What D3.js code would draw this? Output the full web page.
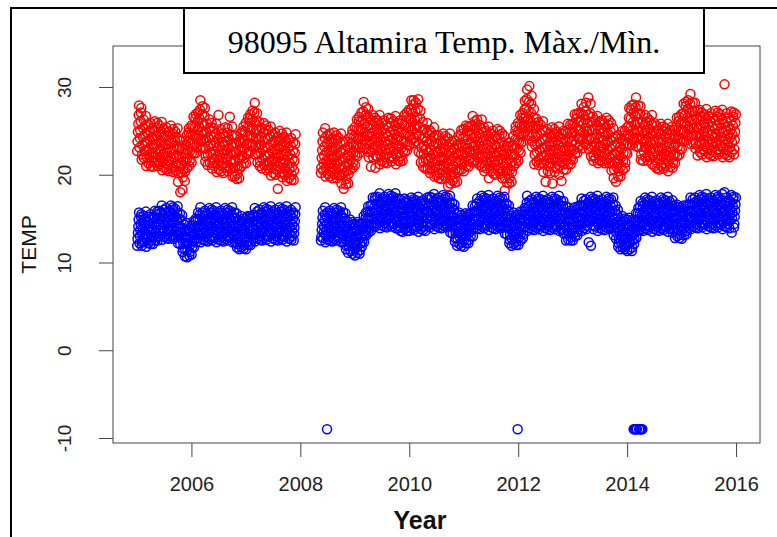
<!DOCTYPE html>
<html>
<head>
<meta charset="utf-8">
<script src="https://cdn.jsdelivr.net/npm/d3@7"></script>
<style>
  body { margin: 0; background: #fff; }
  svg { display: block; }
</style>
</head>
<body>
<div id="chart"></div>
<script>
// Station 98095 Altamira, daily max / min temperature.
// Values: 6 readings per half-month (24 half-months a year).
const years = [2005, 2006, 2007, 2008, 2009, 2010, 2011, 2012, 2013, 2014, 2015];
// half-month where each year's record starts (2008 resumes in May after the gap)
const firstPeriod = [0, 0, 0, 9, 0, 0, 0, 0, 0, 0, 0];
const readingsPerPeriod = 6;

const tmax2005 = [22.7,23.8,24.9,25.8,26.8,27.9, 23.1,24.2,25.1,26.1,27.1,27.6, 21.7,22.3,23.4,24.3,25.3,26.3, 21.9,22.7,23.6,24.6,25.6,26.7,
  21.0,22.0,22.8,23.8,24.8,25.7, 21.3,22.3,23.0,24.0,25.0,25.9, 21.0,21.6,22.5,23.4,24.3,25.3, 20.9,22.0,23.1,24.0,25.0,26.1,
  21.4,22.5,23.4,24.4,25.4,25.9, 21.0,21.6,22.7,23.6,24.6,25.6, 21.2,22.0,22.9,23.9,24.9,26.0, 20.5,21.5,22.3,23.3,24.3,25.2,
  20.8,21.8,22.5,23.5,24.5,25.4, 20.6,21.2,22.1,23.0,23.9,24.9, 20.4,21.5,22.6,23.5,24.5,25.6, 20.7,21.8,22.7,23.7,24.7,25.2,
  20.3,20.9,22.0,22.9,23.9,24.9, 20.5,21.3,22.2,23.2,24.2,25.3, 19.2,20.2,21.0,22.0,23.0,23.9, 18.0,20.3,21.0,22.0,23.0,23.9,
  18.3,19.7,20.6,21.5,22.4,23.4, 19.3,20.4,21.5,22.4,23.4,24.5, 20.8,21.9,22.8,23.8,24.8,25.3, 21.0,21.6,22.7,23.6,24.6,25.6];
const tmax2006 = [21.4,22.5,23.6,24.5,25.5,26.6, 22.4,23.5,24.4,25.4,26.4,26.9, 22.5,23.1,24.2,25.1,26.1,27.1, 23.7,24.5,25.4,26.4,27.4,28.5,
  23.1,24.1,24.9,25.9,26.9,27.8, 23.0,24.0,24.7,25.7,26.7,27.6, 21.5,22.1,23.0,23.9,24.8,25.8, 21.1,22.2,23.3,24.2,25.2,26.3,
  21.4,22.5,23.4,24.4,25.4,25.9, 20.7,21.3,22.4,23.3,24.3,25.3, 21.0,21.8,22.7,23.7,24.7,25.8, 20.3,21.3,22.1,23.1,24.1,26.8,
  20.6,21.6,22.3,23.3,24.3,25.2, 20.4,21.0,21.9,22.8,23.7,24.7, 20.2,21.3,22.4,23.3,24.3,25.4, 20.8,21.9,22.8,23.8,24.8,25.3,
  20.4,21.0,22.1,23.0,24.0,26.6, 20.7,21.5,22.4,23.4,24.4,25.5, 19.8,20.8,21.6,22.6,23.6,24.5, 19.8,20.8,21.5,22.5,23.5,24.4,
  19.5,20.1,21.0,21.9,22.8,23.8, 19.6,20.7,21.8,22.7,23.7,24.8, 21.0,22.1,23.0,24.0,25.0,25.5, 21.3,21.9,23.0,23.9,24.9,25.9];
const tmax2007 = [21.3,22.4,23.5,24.4,25.4,26.5, 22.4,23.5,24.4,25.4,26.4,26.9, 22.7,23.3,24.4,25.3,26.3,27.3, 23.4,24.2,25.1,26.1,27.1,28.2,
  22.3,23.3,24.1,25.1,26.1,27.0, 21.4,22.4,23.1,24.1,25.1,26.0, 21.0,21.6,22.5,23.4,24.3,25.3, 20.7,21.8,22.9,23.8,24.8,25.9,
  21.1,22.2,23.1,24.1,25.1,25.6, 20.5,21.1,22.2,23.1,24.1,25.1, 20.7,21.5,22.4,23.4,24.4,25.5, 19.9,20.9,21.7,22.7,23.7,24.6,
  20.2,21.2,21.9,22.9,23.9,24.8, 20.0,20.6,21.5,22.4,23.3,24.3, 18.4,20.9,22.0,22.9,23.9,25.0, 20.2,21.3,22.2,23.2,24.2,24.7,
  19.7,20.3,21.4,22.3,23.3,24.3, 20.0,20.8,21.7,22.7,23.7,24.8, 19.3,20.3,21.1,22.1,23.1,24.0, 19.6,20.6,21.3,22.3,23.3,24.2,
  19.4,20.0,20.9,21.8,22.7,23.7, 19.4,20.5,21.6,22.5,23.5,24.6];
const tmax2008 = [20.2,20.8,21.9,22.8,23.8,24.8, 20.5,21.3,22.2,23.2,24.2,25.3, 19.8,20.8,21.6,22.6,23.6,24.5,
  20.1,21.1,21.8,22.8,23.8,24.7, 19.8,20.4,21.3,22.2,23.1,24.1, 19.6,20.7,21.8,22.7,23.7,24.8, 20.0,21.1,22.0,23.0,24.0,24.5,
  19.6,20.2,21.3,22.2,23.2,24.2, 19.9,20.7,21.6,22.6,23.6,24.7, 19.0,20.0,20.8,21.8,22.8,23.7, 18.4,20.2,20.9,21.9,22.9,23.8,
  18.9,19.5,20.4,21.3,22.2,23.2, 19.0,20.1,21.2,22.1,23.1,24.2, 20.6,21.7,22.6,23.6,24.6,25.1, 20.8,21.4,22.5,23.4,24.4,25.4];
const tmax2009 = [21.1,22.2,23.3,24.2,25.2,26.3, 22.1,23.2,24.1,25.1,26.1,26.6, 22.5,23.1,24.2,25.1,26.1,27.1, 23.5,24.3,25.2,26.2,27.2,28.3,
  23.0,24.0,24.8,25.8,26.8,27.7, 22.9,23.9,24.6,25.6,26.6,27.5, 22.0,22.6,23.5,24.4,25.3,26.3, 20.9,22.7,23.8,24.7,25.7,26.8,
  22.0,23.1,24.0,25.0,26.0,26.5, 20.8,22.2,23.3,24.2,25.2,26.2, 22.0,22.8,23.7,24.7,25.7,26.8, 21.2,22.2,23.0,24.0,25.0,25.9,
  21.6,22.6,23.3,24.3,25.3,26.2, 21.4,22.0,22.9,23.8,24.7,25.7, 21.3,22.4,23.5,24.4,25.4,26.5, 21.9,23.0,23.9,24.9,25.9,26.4,
  21.5,22.1,23.2,24.1,25.1,26.1, 21.9,22.7,23.6,24.6,25.6,26.7, 21.2,22.2,23.0,24.0,25.0,25.9, 21.6,22.6,23.3,24.3,25.3,26.2,
  21.5,22.1,23.0,23.9,24.8,25.8, 21.6,22.7,23.8,24.7,25.7,26.8, 22.6,23.7,24.6,25.6,26.6,27.1, 22.8,23.4,24.5,25.4,26.4,27.4];
const tmax2010 = [23.3,24.4,25.5,26.4,27.4,28.5, 24.0,25.1,26.0,27.0,28.0,28.5, 23.6,24.2,25.3,26.2,27.2,28.2, 23.8,24.6,25.5,26.5,27.5,28.6,
  22.6,23.6,24.4,25.4,26.4,27.3, 21.4,22.4,23.1,24.1,25.1,26.0, 20.9,21.5,22.4,23.3,24.2,25.2, 20.7,21.8,22.9,23.8,24.8,25.9,
  20.6,21.7,22.6,23.6,24.6,25.1, 20.2,20.8,21.9,22.8,23.8,24.8, 20.6,21.4,22.3,23.3,24.3,25.4, 19.8,20.8,21.6,22.6,23.6,24.5,
  19.9,20.9,21.6,22.6,23.6,24.5, 19.6,20.2,21.1,22.0,22.9,23.9, 19.5,20.6,21.7,22.6,23.6,24.7, 19.9,21.0,21.9,22.9,23.9,24.4,
  19.6,20.2,21.3,22.2,23.2,24.2, 18.7,20.7,21.6,22.6,23.6,24.7, 19.0,20.0,20.8,21.8,22.8,23.7, 19.3,20.3,21.0,22.0,23.0,23.9,
  19.1,19.7,20.6,21.5,22.4,23.4, 19.2,20.3,21.4,22.3,23.3,24.4, 20.6,21.7,22.6,23.6,24.6,25.1, 20.6,21.2,22.3,23.2,24.2,25.2];
const tmax2011 = [20.4,21.5,22.6,23.5,24.5,25.6, 21.0,22.1,23.0,24.0,25.0,25.5, 20.9,21.5,22.6,23.5,24.5,25.5, 21.9,22.7,23.6,24.6,25.6,26.7,
  21.4,22.4,23.2,24.2,25.2,26.1, 21.7,22.7,23.4,24.4,25.4,26.3, 21.4,22.0,22.9,23.8,24.7,25.7, 21.1,22.2,23.3,24.2,25.2,26.3,
  20.9,22.0,22.9,23.9,24.9,25.4, 20.4,21.0,22.1,23.0,24.0,25.0, 20.7,21.5,22.4,23.4,24.4,25.5, 19.6,21.0,21.8,22.8,23.8,24.7,
  20.4,21.4,22.1,23.1,24.1,25.0, 20.1,20.7,21.6,22.5,23.4,24.4, 20.0,21.1,22.2,23.1,24.1,25.2, 20.5,21.6,22.5,23.5,24.5,25.0,
  20.1,20.7,21.8,22.7,23.7,24.7, 19.6,20.4,21.3,22.3,23.3,24.4, 18.2,19.6,20.4,21.4,22.4,23.3, 19.1,20.1,20.8,21.8,22.8,23.7,
  19.0,19.6,20.5,21.4,22.3,23.3, 19.2,20.3,21.4,22.3,23.3,24.4, 21.0,22.1,23.0,24.0,25.0,25.5, 21.3,21.9,23.0,23.9,24.9,25.9];
const tmax2012 = [21.6,22.7,23.8,24.7,25.7,26.8, 22.5,23.6,24.5,25.5,26.5,27.0, 23.8,24.4,25.5,26.4,27.4,28.4, 24.9,25.7,26.6,27.6,28.6,29.7,
  24.5,25.5,26.3,27.3,28.3,30.1, 24.4,25.4,26.1,27.1,28.1,29.0, 23.2,23.8,24.7,25.6,26.5,27.5, 21.2,22.3,23.4,24.3,25.3,26.4,
  21.5,22.6,23.5,24.5,25.5,26.0, 21.1,21.7,22.8,23.7,24.7,25.7, 21.3,22.1,23.0,24.0,25.0,26.1, 20.3,21.3,22.1,23.1,24.1,25.0,
  19.2,21.6,22.3,23.3,24.3,25.2, 20.4,21.0,21.9,22.8,23.7,24.7, 20.2,21.3,22.4,23.3,24.3,25.4, 19.0,21.8,22.7,23.7,24.7,25.2,
  20.3,20.9,22.0,22.9,23.9,24.9, 20.7,21.5,22.4,23.4,24.4,25.5, 20.0,21.0,21.8,22.8,23.8,24.7, 19.3,21.4,22.1,23.1,24.1,25.0,
  20.6,21.2,22.1,23.0,23.9,24.9, 20.6,21.7,22.8,23.7,24.7,25.8, 21.2,22.3,23.2,24.2,25.2,25.7, 21.2,21.8,22.9,23.8,24.8,25.8];
const tmax2013 = [21.7,22.8,23.9,24.8,25.8,26.9, 22.4,23.5,24.4,25.4,26.4,26.9, 22.5,23.1,24.2,25.1,26.1,27.1, 23.3,24.1,25.0,26.0,27.0,28.1,
  23.0,24.0,24.8,25.8,26.8,27.7, 23.6,24.6,25.3,26.3,27.3,28.2, 23.5,24.1,25.0,25.9,26.8,28.8, 22.9,24.0,25.1,26.0,27.0,28.1,
  22.1,23.2,24.1,25.1,26.1,26.6, 21.6,22.2,23.3,24.2,25.2,26.2, 21.9,22.7,23.6,24.6,25.6,26.7, 21.3,22.3,23.1,24.1,25.1,26.0,
  21.6,22.6,23.3,24.3,25.3,26.2, 21.5,22.1,23.0,23.9,24.8,25.8, 21.3,22.4,23.5,24.4,25.4,26.5, 21.7,22.8,23.7,24.7,25.7,26.2,
  21.3,21.9,23.0,23.9,24.9,25.9, 20.5,21.3,22.2,23.2,24.2,25.3, 19.6,20.6,21.4,22.4,23.4,24.3, 19.2,20.9,21.6,22.6,23.6,24.5,
  19.8,20.4,21.3,22.2,23.1,24.1, 19.8,20.9,22.0,22.9,23.9,25.0, 20.5,21.6,22.5,23.5,24.5,25.0, 20.8,21.4,22.5,23.4,24.4,25.4];
const tmax2014 = [22.4,23.5,24.6,25.5,26.5,27.6, 23.4,24.5,25.4,26.4,27.4,27.9, 23.4,24.0,25.1,26.0,27.0,28.0, 24.0,24.8,25.7,26.7,27.7,28.8,
  23.2,24.2,25.0,26.0,27.0,27.9, 23.2,24.2,24.9,25.9,26.9,27.8, 21.7,22.3,23.2,24.1,25.0,26.0, 21.6,22.7,23.8,24.7,25.7,26.8,
  22.0,23.1,24.0,25.0,26.0,26.5, 21.6,22.2,23.3,24.2,25.2,26.2, 22.0,22.8,23.7,24.7,25.7,26.8, 21.2,22.2,23.0,24.0,25.0,25.9,
  21.0,22.0,22.7,23.7,24.7,25.6, 20.7,21.3,22.2,23.1,24.0,25.0, 20.6,21.7,22.8,23.7,24.7,25.8, 21.0,22.1,23.0,24.0,25.0,25.5,
  20.7,21.3,22.4,23.3,24.3,25.3, 21.0,21.8,22.7,23.7,24.7,25.8, 20.4,21.4,22.2,23.2,24.2,25.1, 20.9,21.9,22.6,23.6,24.6,25.5,
  20.8,21.4,22.3,23.2,24.1,25.1, 21.3,22.4,23.5,24.4,25.4,26.5, 22.1,23.2,24.1,25.1,26.1,26.6, 22.3,22.9,24.0,24.9,25.9,26.9];
const tmax2015 = [22.9,24.0,25.1,26.0,27.0,28.1, 23.8,24.9,25.8,26.8,27.8,28.3, 23.9,24.5,25.6,26.5,27.5,28.5, 24.4,25.2,26.1,27.1,28.1,29.2,
  23.5,24.5,25.3,26.3,27.3,28.2, 23.6,24.6,25.3,26.3,27.3,28.2, 23.0,23.6,24.5,25.4,26.3,27.3, 22.2,23.3,24.4,25.3,26.3,27.4,
  22.6,23.7,24.6,25.6,26.6,27.1, 22.3,22.9,24.0,24.9,25.9,26.9, 22.7,23.5,24.4,25.4,26.4,27.5, 22.0,23.0,23.8,24.8,25.8,26.7,
  22.4,23.4,24.1,25.1,26.1,27.0, 22.2,22.8,23.7,24.6,25.5,26.5, 22.1,23.2,24.3,25.2,26.2,27.3, 22.6,23.7,24.6,25.6,26.6,27.1,
  22.3,22.9,24.0,24.9,25.9,26.9, 22.6,23.4,24.3,25.3,26.3,27.4, 22.0,23.0,23.8,24.8,25.8,30.3, 22.4,23.4,24.1,25.1,26.1,27.0,
  22.2,22.8,23.7,24.6,25.5,26.5, 22.0,23.1,24.2,25.1,26.1,27.2, 22.6,23.7,24.6,25.6,26.6,27.1, 22.3,22.9,24.0,24.9,25.9,26.9];

const tmin2005 = [11.9,12.7,13.4,14.1,14.9,15.7, 12.2,13.0,13.7,14.4,15.2,15.5, 11.9,12.3,13.1,13.8,14.5,15.3, 12.3,12.9,13.6,14.3,15.0,15.8,
  11.8,12.6,13.1,13.8,14.6,15.2, 12.2,12.9,13.5,14.1,14.9,15.5, 12.1,12.5,13.1,13.8,14.5,15.2, 12.1,12.9,13.6,14.3,15.1,15.9,
  12.5,13.3,14.0,14.7,15.5,15.8, 12.5,12.9,13.7,14.4,15.1,15.9, 13.0,13.6,14.3,15.0,15.7,16.5, 12.6,13.4,13.9,14.6,15.4,16.0,
  12.9,13.6,14.2,14.8,15.6,16.2, 12.8,13.2,13.8,14.5,15.2,15.9, 12.7,13.5,14.2,14.9,15.7,16.5, 13.0,13.8,14.5,15.2,16.0,16.3,
  12.7,13.1,13.9,14.6,15.3,16.1, 12.9,13.5,14.2,14.9,15.6,16.4, 12.2,13.0,13.5,14.2,15.0,15.6, 12.1,12.8,13.4,14.0,14.8,15.4,
  11.2,11.6,12.2,12.9,13.6,14.3, 10.7,11.5,12.2,12.9,13.7,14.5, 10.6,11.4,12.1,12.8,13.6,13.9, 10.8,11.2,12.0,12.7,13.4,14.2];
const tmin2006 = [10.9,11.7,12.4,13.1,13.9,14.7, 11.7,12.5,13.2,13.9,14.7,15.0, 12.3,12.7,13.5,14.2,14.9,15.7, 12.8,13.4,14.1,14.8,15.5,16.3,
  12.3,13.1,13.6,14.3,15.1,15.7, 12.6,13.3,13.9,14.5,15.3,15.9, 12.5,12.9,13.5,14.2,14.9,15.6, 12.4,13.2,13.9,14.6,15.4,16.2,
  12.7,13.5,14.2,14.9,15.7,16.0, 12.5,12.9,13.7,14.4,15.1,15.9, 12.8,13.4,14.1,14.8,15.5,16.3, 12.3,13.1,13.6,14.3,15.1,15.7,
  12.6,13.3,13.9,14.5,15.3,15.9, 12.5,12.9,13.5,14.2,14.9,15.6, 12.4,13.2,13.9,14.6,15.4,16.2, 12.7,13.5,14.2,14.9,15.7,16.0,
  12.5,12.9,13.7,14.4,15.1,15.9, 12.8,13.4,14.1,14.8,15.5,16.3, 12.3,13.1,13.6,14.3,15.1,15.7, 12.3,13.0,13.6,14.2,15.0,15.6,
  11.7,12.1,12.7,13.4,14.1,14.8, 11.5,12.3,13.0,13.7,14.5,15.3, 11.7,12.5,13.2,13.9,14.7,15.0, 11.6,12.0,12.8,13.5,14.2,15.0];
const tmin2007 = [11.5,12.3,13.0,13.7,14.5,15.3, 12.0,12.8,13.5,14.2,15.0,15.3, 12.0,12.4,13.2,13.9,14.6,15.4, 12.7,13.3,14.0,14.7,15.4,16.2,
  12.4,13.2,13.7,14.4,15.2,15.8, 12.7,13.4,14.0,14.6,15.4,16.0, 12.6,13.0,13.6,14.3,15.0,15.7, 12.5,13.3,14.0,14.7,15.5,16.3,
  12.8,13.6,14.3,15.0,15.8,16.1, 12.6,13.0,13.8,14.5,15.2,16.0, 12.9,13.5,14.2,14.9,15.6,16.4, 12.4,13.2,13.7,14.4,15.2,15.8,
  12.7,13.4,14.0,14.6,15.4,16.0, 12.6,13.0,13.6,14.3,15.0,15.7, 12.5,13.3,14.0,14.7,15.5,16.3, 12.8,13.6,14.3,15.0,15.8,16.1,
  12.6,13.0,13.8,14.5,15.2,16.0, 12.9,13.5,14.2,14.9,15.6,16.4, 12.4,13.2,13.7,14.4,15.2,15.8, 12.7,13.4,14.0,14.6,15.4,16.0,
  12.6,13.0,13.6,14.3,15.0,15.7, 12.5,13.3,14.0,14.7,15.5,16.3];
const tmin2008 = [12.5,12.9,13.7,14.4,15.1,15.9, 12.8,13.4,14.1,14.8,15.5,16.3, 12.3,13.1,13.6,14.3,15.1,15.7,
  12.6,13.3,13.9,14.5,15.3,15.9, 12.5,12.9,13.5,14.2,14.9,15.6, 12.4,13.2,13.9,14.6,15.4,16.2, 12.7,13.5,14.2,14.9,15.7,16.0,
  12.5,12.9,13.7,14.4,15.1,15.9, 12.8,13.4,14.1,14.8,15.5,16.3, 12.3,13.1,13.6,14.3,15.1,15.7, 12.3,13.0,13.6,14.2,15.0,15.6,
  11.5,11.9,12.5,13.2,13.9,14.6, 11.1,11.9,12.6,13.3,14.1,14.9, 11.3,12.1,12.8,13.5,14.3,14.6, 11.0,11.4,12.2,12.9,13.6,14.4];
const tmin2009 = [10.8,11.6,12.3,13.0,13.8,14.6, 11.1,11.9,12.6,13.3,14.1,14.4, 11.0,11.4,12.2,12.9,13.6,14.4, 11.8,12.4,13.1,13.8,14.5,15.3,
  12.3,13.1,13.6,14.3,15.1,15.7, 13.1,13.8,14.4,15.0,15.8,16.4, 13.4,13.8,14.4,15.1,15.8,16.5, 13.6,14.4,15.1,15.8,16.6,17.4,
  14.1,14.9,15.6,16.3,17.1,17.4, 14.1,14.5,15.3,16.0,16.7,17.5, 14.4,15.0,15.7,16.4,17.1,17.9, 13.9,14.7,15.2,15.9,16.7,17.3,
  14.2,14.9,15.5,16.1,16.9,17.5, 14.1,14.5,15.1,15.8,16.5,17.2, 14.0,14.8,15.5,16.2,17.0,17.8, 14.3,15.1,15.8,16.5,17.3,17.6,
  14.1,14.5,15.3,16.0,16.7,17.5, 14.4,15.0,15.7,16.4,17.1,17.9, 13.9,14.7,15.2,15.9,16.7,17.3, 13.9,14.6,15.2,15.8,16.6,17.2,
  13.6,14.0,14.6,15.3,16.0,16.7, 13.5,14.3,15.0,15.7,16.5,17.3, 13.8,14.6,15.3,16.0,16.8,17.1, 13.6,14.0,14.8,15.5,16.2,17.0];
const tmin2010 = [13.6,14.4,15.1,15.8,16.6,17.4, 13.9,14.7,15.4,16.1,16.9,17.2, 13.7,14.1,14.9,15.6,16.3,17.1, 14.0,14.6,15.3,16.0,16.7,17.5,
  13.5,14.3,14.8,15.5,16.3,16.9, 13.8,14.5,15.1,15.7,16.5,17.1, 13.7,14.1,14.7,15.4,16.1,16.8, 13.6,14.4,15.1,15.8,16.6,17.4,
  14.2,15.0,15.7,16.4,17.2,17.5, 14.0,14.4,15.2,15.9,16.6,17.4, 14.3,14.9,15.6,16.3,17.0,17.8, 13.8,14.6,15.1,15.8,16.6,17.2,
  14.1,14.8,15.4,16.0,16.8,17.4, 14.0,14.4,15.0,15.7,16.4,17.1, 13.9,14.7,15.4,16.1,16.9,17.7, 14.2,15.0,15.7,16.4,17.2,17.5,
  14.0,14.4,15.2,15.9,16.6,17.4, 14.1,14.7,15.4,16.1,16.8,17.6, 13.4,14.2,14.7,15.4,16.2,16.8, 13.3,14.0,14.6,15.2,16.0,16.6,
  12.4,12.8,13.4,14.1,14.8,15.5, 11.9,12.7,13.4,14.1,14.9,15.7, 12.1,12.9,13.6,14.3,15.1,15.4, 11.9,12.3,13.1,13.8,14.5,15.3];
const tmin2011 = [11.8,12.6,13.3,14.0,14.8,15.6, 12.2,13.0,13.7,14.4,15.2,15.5, 12.2,12.6,13.4,14.1,14.8,15.6, 13.0,13.6,14.3,15.0,15.7,16.5,
  13.0,13.8,14.3,15.0,15.8,16.4, 14.0,14.7,15.3,15.9,16.7,17.3, 13.9,14.3,14.9,15.6,16.3,17.0, 13.8,14.6,15.3,16.0,16.8,17.6,
  14.1,14.9,15.6,16.3,17.1,17.4, 13.9,14.3,15.1,15.8,16.5,17.3, 14.2,14.8,15.5,16.2,16.9,17.7, 13.7,14.5,15.0,15.7,16.5,17.1,
  14.0,14.7,15.3,15.9,16.7,17.3, 13.9,14.3,14.9,15.6,16.3,17.0, 13.8,14.6,15.3,16.0,16.8,17.6, 14.1,14.9,15.6,16.3,17.1,17.4,
  13.9,14.3,15.1,15.8,16.5,17.3, 14.0,14.6,15.3,16.0,16.7,17.5, 13.3,14.1,14.6,15.3,16.1,16.7, 13.2,13.9,14.5,15.1,15.9,16.5,
  12.2,12.6,13.2,13.9,14.6,15.3, 11.9,12.7,13.4,14.1,14.9,15.7, 12.1,12.9,13.6,14.3,15.1,15.4, 12.0,12.4,13.2,13.9,14.6,15.4];
const tmin2012 = [12.0,12.8,13.5,14.2,15.0,15.8, 12.5,13.3,14.0,14.7,15.5,15.8, 12.8,13.2,14.0,14.7,15.4,16.2, 14.1,14.7,15.4,16.1,16.8,17.6,
  13.6,14.4,14.9,15.6,16.4,17.0, 13.9,14.6,15.2,15.8,16.6,17.2, 13.8,14.2,14.8,15.5,16.2,16.9, 13.7,14.5,15.2,15.9,16.7,17.5,
  14.0,14.8,15.5,16.2,17.0,17.3, 13.8,14.2,15.0,15.7,16.4,17.2, 14.1,14.7,15.4,16.1,16.8,17.6, 13.6,14.4,14.9,15.6,16.4,17.0,
  13.9,14.6,15.2,15.8,16.6,17.2, 13.8,14.2,14.8,15.5,16.2,16.9, 13.7,14.5,15.2,15.9,16.7,17.5, 14.0,14.8,15.5,16.2,17.0,17.3,
  13.8,14.2,15.0,15.7,16.4,17.2, 14.1,14.7,15.4,16.1,16.8,17.6, 13.6,14.4,14.9,15.6,16.4,17.0, 13.7,14.4,15.0,15.6,16.4,17.0,
  13.3,13.7,14.3,15.0,15.7,16.4, 12.5,13.3,14.0,14.7,15.5,16.3, 12.6,13.4,14.1,14.8,15.6,15.9, 12.5,12.9,13.7,14.4,15.1,15.9];
const tmin2013 = [12.5,13.3,14.0,14.7,15.5,16.3, 13.0,13.8,14.5,15.2,16.0,16.3, 13.1,13.5,14.3,15.0,15.7,16.5, 13.8,14.4,15.1,15.8,16.5,17.3,
  13.6,14.4,14.9,15.6,16.4,17.0, 13.9,14.6,15.2,15.8,16.6,17.2, 13.8,14.2,14.8,15.5,16.2,16.9, 12.3,14.5,15.2,15.9,16.7,17.5,
  11.9,14.8,15.5,16.2,17.0,17.3, 13.8,14.2,15.0,15.7,16.4,17.2, 14.1,14.7,15.4,16.1,16.8,17.6, 13.6,14.4,14.9,15.6,16.4,17.0,
  13.9,14.6,15.2,15.8,16.6,17.2, 13.8,14.2,14.8,15.5,16.2,16.9, 13.7,14.5,15.2,15.9,16.7,17.5, 14.0,14.8,15.5,16.2,17.0,17.3,
  13.8,14.2,15.0,15.7,16.4,17.2, 13.9,14.5,15.2,15.9,16.6,17.4, 13.1,13.9,14.4,15.1,15.9,16.5, 12.7,13.4,14.0,14.6,15.4,16.0,
  11.8,12.2,12.8,13.5,14.2,14.9, 11.5,12.3,13.0,13.7,14.5,15.3, 11.7,12.5,13.2,13.9,14.7,15.0, 11.5,11.9,12.7,13.4,14.1,14.9];
const tmin2014 = [11.3,12.1,12.8,13.5,14.3,15.1, 11.5,12.3,13.0,13.7,14.5,14.8, 11.3,11.7,12.5,13.2,13.9,14.7, 12.1,12.7,13.4,14.1,14.8,15.6,
  12.8,13.6,14.1,14.8,15.6,16.2, 13.7,14.4,15.0,15.6,16.4,17.0, 13.7,14.1,14.7,15.4,16.1,16.8, 13.6,14.4,15.1,15.8,16.6,17.4,
  13.9,14.7,15.4,16.1,16.9,17.2, 13.7,14.1,14.9,15.6,16.3,17.1, 14.0,14.6,15.3,16.0,16.7,17.5, 13.5,14.3,14.8,15.5,16.3,16.9,
  13.8,14.5,15.1,15.7,16.5,17.1, 13.7,14.1,14.7,15.4,16.1,16.8, 13.6,14.4,15.1,15.8,16.6,17.4, 13.9,14.7,15.4,16.1,16.9,17.2,
  13.7,14.1,14.9,15.6,16.3,17.1, 14.0,14.6,15.3,16.0,16.7,17.5, 13.5,14.3,14.8,15.5,16.3,16.9, 13.8,14.5,15.1,15.7,16.5,17.1,
  13.4,13.8,14.4,15.1,15.8,16.5, 12.8,13.6,14.3,15.0,15.8,16.6, 13.0,13.8,14.5,15.2,16.0,16.3, 12.8,13.2,14.0,14.7,15.4,16.2];
const tmin2015 = [12.7,13.5,14.2,14.9,15.7,16.5, 13.1,13.9,14.6,15.3,16.1,16.4, 13.2,13.6,14.4,15.1,15.8,16.6, 13.9,14.5,15.2,15.9,16.6,17.4,
  13.8,14.6,15.1,15.8,16.6,17.2, 14.1,14.8,15.4,16.0,16.8,17.4, 14.0,14.4,15.0,15.7,16.4,17.1, 13.9,14.7,15.4,16.1,16.9,17.7,
  14.2,15.0,15.7,16.4,17.2,17.5, 14.0,14.4,15.2,15.9,16.6,17.4, 14.3,14.9,15.6,16.3,17.0,17.8, 13.8,14.6,15.1,15.8,16.6,17.2,
  14.1,14.8,15.4,16.0,16.8,17.4, 14.0,14.4,15.0,15.7,16.4,17.1, 13.9,14.7,15.4,16.1,16.9,17.7, 14.2,15.0,15.7,16.4,17.2,17.5,
  14.0,14.4,15.2,15.9,16.6,17.4, 14.3,14.9,15.6,16.3,17.0,17.8, 13.8,14.6,15.1,15.8,16.6,18.0, 14.1,14.8,15.4,16.0,16.8,17.4,
  14.0,14.4,15.0,15.7,16.4,17.1, 13.9,14.7,15.4,16.1,16.9,17.7, 13.4,15.0,15.7,16.4,17.2,17.5, 14.0,14.4,15.2,15.9,16.6,17.4];

// days where Tmin was stored as the -9 missing code
const tminCodedDates = [2008.49, 2011.99, 2014.12, 2014.14, 2014.16, 2014.18, 2014.22, 2014.24, 2014.26, 2014.28];
const tminCodedValue = -9;

const yTicks = [-10, 0, 10, 20, 30];
const xTicks = [2006, 2008, 2010, 2012, 2014, 2016];

const tmaxByYear = [tmax2005, tmax2006, tmax2007, tmax2008, tmax2009, tmax2010, tmax2011, tmax2012, tmax2013, tmax2014, tmax2015];
const tminByYear = [tmin2005, tmin2006, tmin2007, tmin2008, tmin2009, tmin2010, tmin2011, tmin2012, tmin2013, tmin2014, tmin2015];

const perYear = 24 * readingsPerPeriod;

function toPoints(byYear) {
  let pts = [];
  byYear.forEach(function(vals, k) {
    let offset = firstPeriod[k] * readingsPerPeriod;
    vals.forEach(function(v, i) {
      pts.push({date: years[k] + (offset + i + 0.5) / perYear, t: v});
    });
  });
  return pts;
}

let tmaxPts = toPoints(tmaxByYear);
let tminPts = toPoints(tminByYear).concat(tminCodedDates.map(d => ({date: d, t: tminCodedValue})));

var svgWidth = 777, svgHeight = 537;
var svg = d3.select("#chart").append("svg")
  .attr("width", svgWidth)
  .attr("height", svgHeight);

let xScale = d3.scaleLinear().domain([2004.56, 2016.44]).range([113, 760]);
let yScale = d3.scaleLinear().domain([-10.57, 34.67]).range([443, 46]);

// outer frame (left and top edges)
svg.append("path")
  .attr("d", "M11,537V8H777")
  .attr("fill", "none")
  .attr("stroke", "#000")
  .attr("stroke-width", 2);

// points
svg.append("g").selectAll("circle")
  .data(tmaxPts)
  .enter()
  .append("circle")
    .attr("cx", d => xScale(d.date))
    .attr("cy", d => yScale(d.t))
    .attr("r", 4.5)
    .attr("fill", "none")
    .attr("stroke", "#ff0000")
    .attr("stroke-width", 1.5);

svg.append("g").selectAll("circle")
  .data(tminPts)
  .enter()
  .append("circle")
    .attr("cx", d => xScale(d.date))
    .attr("cy", d => yScale(d.t))
    .attr("r", 4.5)
    .attr("fill", "none")
    .attr("stroke", "#0000ff")
    .attr("stroke-width", 1.5);

// plot box
svg.append("rect")
  .attr("x", 113).attr("y", 46)
  .attr("width", 647).attr("height", 397)
  .attr("fill", "none")
  .attr("stroke", "#444")
  .attr("stroke-width", 1);

// axes
var leftAxis = d3.axisLeft(yScale).tickValues(yTicks).tickSize(14).tickSizeOuter(0).tickFormat(d => String(d));
var yAxisG = svg.append("g")
  .attr("transform", "translate(113,0)")
  .call(leftAxis);
yAxisG.select(".domain").remove();
yAxisG.selectAll("line").attr("stroke", "#444");
yAxisG.selectAll("text")
  .attr("x", 0)
  .attr("y", -42)
  .attr("dy", null)
  .attr("transform", "rotate(-90)")
  .attr("text-anchor", "middle")
  .attr("fill", "#222")
  .style("font-family", "'Liberation Sans', Arial, sans-serif")
  .style("font-size", "19px");

var bottomAxis = d3.axisBottom(xScale).tickValues(xTicks).tickSize(14).tickSizeOuter(0).tickFormat(d => String(d));
var xAxisG = svg.append("g")
  .attr("transform", "translate(0,443)")
  .call(bottomAxis);
xAxisG.select(".domain").remove();
xAxisG.selectAll("line").attr("stroke", "#444");
xAxisG.selectAll("text")
  .attr("y", 48)
  .attr("dy", null)
  .attr("fill", "#222")
  .style("font-family", "'Liberation Sans', Arial, sans-serif")
  .style("font-size", "20px");

// axis titles
svg.append("text")
  .attr("transform", "translate(36,244.5) rotate(-90)")
  .attr("text-anchor", "middle")
  .attr("fill", "#111")
  .style("font-family", "'Liberation Sans', Arial, sans-serif")
  .style("font-size", "21px")
  .text("TEMP");

svg.append("text")
  .attr("x", 420).attr("y", 529)
  .attr("text-anchor", "middle")
  .attr("fill", "#111")
  .style("font-family", "'Liberation Sans', Arial, sans-serif")
  .style("font-weight", "bold")
  .style("font-size", "25px")
  .text("Year");

// title box
svg.append("rect")
  .attr("x", 184).attr("y", 8)
  .attr("width", 520).attr("height", 65)
  .attr("fill", "#fff")
  .attr("stroke", "#000")
  .attr("stroke-width", 2);
svg.append("text")
  .attr("x", 444).attr("y", 53)
  .attr("text-anchor", "middle")
  .attr("fill", "#000")
  .style("font-family", "'Liberation Serif', 'Times New Roman', serif")
  .style("font-size", "32px")
  .text("98095 Altamira Temp. Màx./Mìn.");
</script>
</body>
</html>
